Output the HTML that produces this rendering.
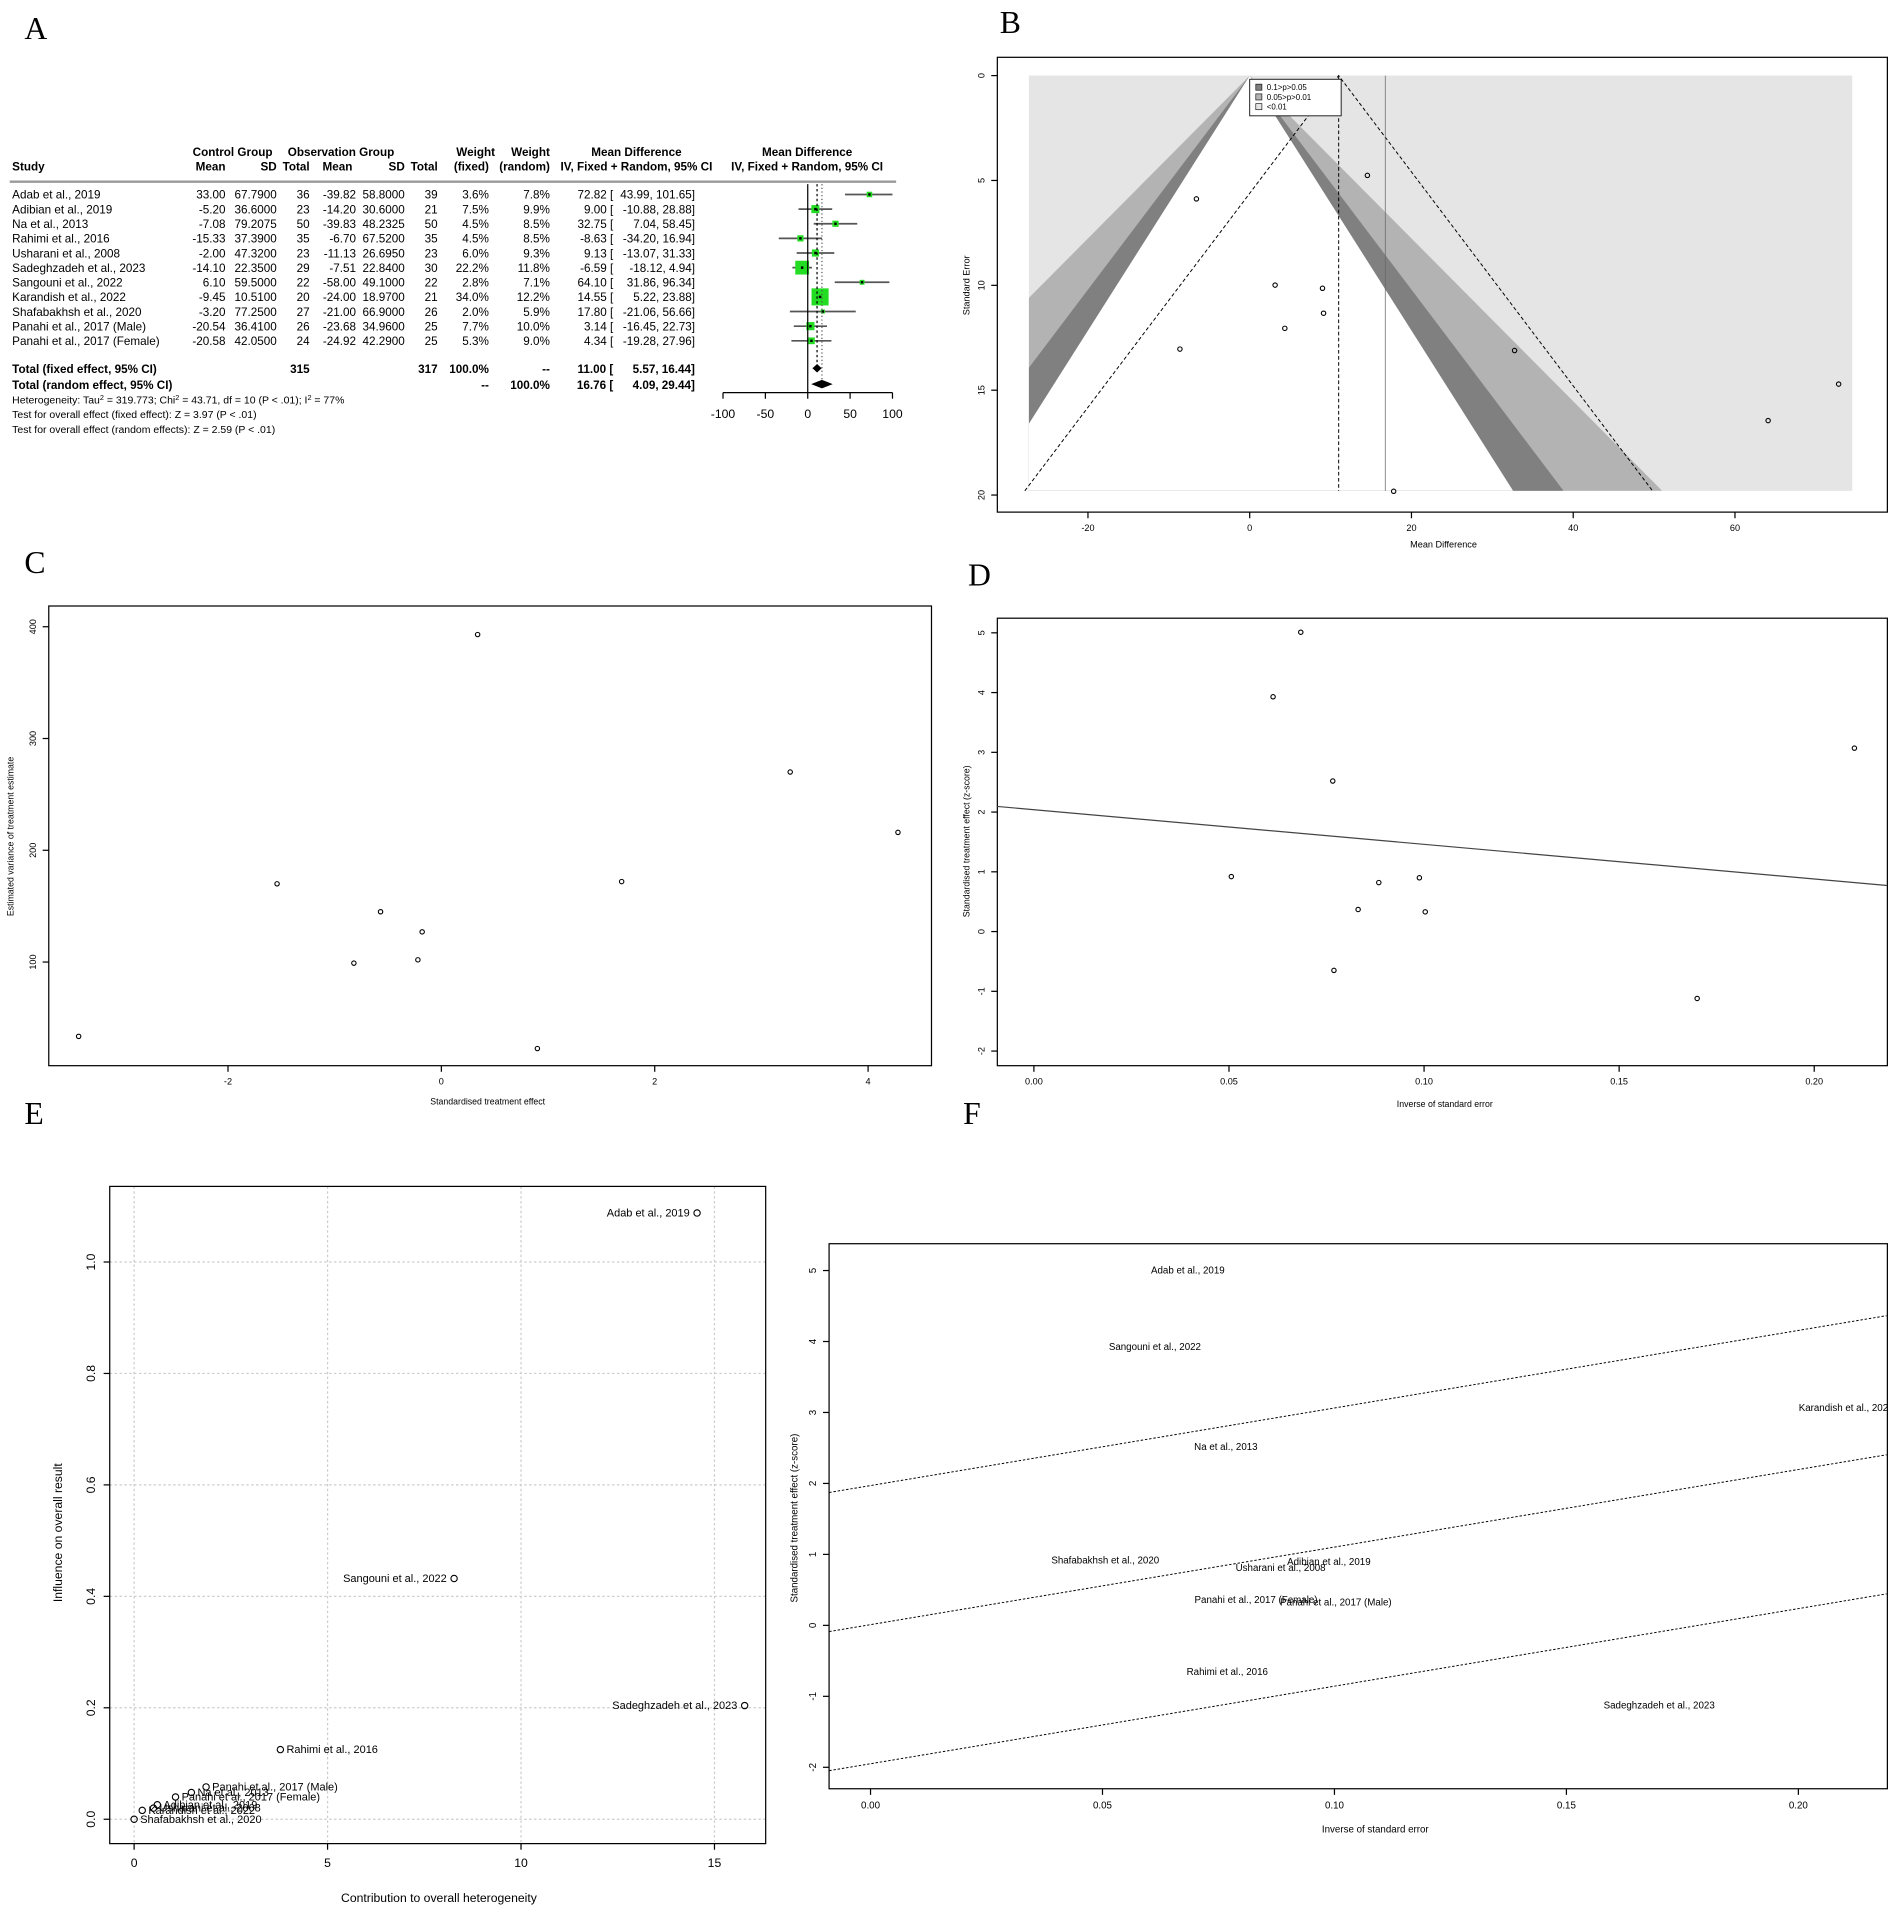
<!DOCTYPE html>
<html><head><meta charset="utf-8"><style>
html,body{margin:0;padding:0;background:#fff;}
svg{display:block;font-family:"Liberation Sans",sans-serif;}
.lbl{font-family:"Liberation Serif",serif;font-size:26px;}
</style></head><body>
<svg id="fig" width="1902" height="1918" viewBox="0 0 1560 1573" preserveAspectRatio="none" xmlns="http://www.w3.org/2000/svg">
<text class="lbl" x="20" y="32">A</text>
<text class="lbl" x="820" y="27">B</text>
<text class="lbl" x="20" y="470">C</text>
<text class="lbl" x="794" y="480">D</text>
<text class="lbl" x="20" y="922">E</text>
<text class="lbl" x="790" y="922">F</text>
<g id="A"></g>
<g id="B"></g>
<g id="C"></g>
<g id="D"></g>
<g id="E"></g>
<g id="F"></g>
</svg>
<script>
// ---------- Data ----------
const studies = ["Adab et al., 2019","Adibian et al., 2019","Na et al., 2013","Rahimi et al., 2016","Usharani et al., 2008","Sadeghzadeh et al., 2023","Sangouni et al., 2022","Karandish et al., 2022","Shafabakhsh et al., 2020","Panahi et al., 2017 (Male)","Panahi et al., 2017 (Female)"];
const ctrlMean = ["33.00","-5.20","-7.08","-15.33","-2.00","-14.10","6.10","-9.45","-3.20","-20.54","-20.58"];
const ctrlSD = ["67.7900","36.6000","79.2075","37.3900","47.3200","22.3500","59.5000","10.5100","77.2500","36.4100","42.0500"];
const ctrlN = [36,23,50,35,23,29,22,20,27,26,24];
const obsMean = ["-39.82","-14.20","-39.83","-6.70","-11.13","-7.51","-58.00","-24.00","-21.00","-23.68","-24.92"];
const obsSD = ["58.8000","30.6000","48.2325","67.5200","26.6950","22.8400","49.1000","18.9700","66.9000","34.9600","42.2900"];
const obsN = [39,21,50,35,23,30,22,21,26,25,25];
const md = [72.82,9.00,32.75,-8.63,9.13,-6.59,64.10,14.55,17.80,3.14,4.34];
const ciLo = [43.99,-10.88,7.04,-34.20,-13.07,-18.12,31.86,5.22,-21.06,-16.45,-19.28];
const ciHi = [101.65,28.88,58.45,16.94,31.33,4.94,96.34,23.88,56.66,22.73,27.96];
const wFixed = [3.6,7.5,4.5,4.5,6.0,22.2,2.8,34.0,2.0,7.7,5.3];
const wRandom = [7.8,9.9,8.5,8.5,9.3,11.8,7.1,12.2,5.9,10.0,9.0];
const fixedEst = [11.00,5.57,16.44];
const randomEst = [16.76,4.09,29.44];
const forestTicks = [-100,-50,0,50,100];
// funnel (B)
const funnelSE = [14.71,10.14,13.11,13.04,11.33,5.88,16.45,4.76,19.82,9.99,12.05];
const funnelTicksX = [-20,0,20,40,60];
const funnelTicksY = [0,5,10,15,20];
// C
const cX = [-3.40,-1.54,-0.57,-0.82,-0.18,-0.22,0.34,0.90,1.69,3.27,4.28];
const cY = [33.5,170,145,99,127,102,393,22.6,172,270,216];
const cTicksX = [-2,0,2,4];
const cTicksY = [100,200,300,400];
// D / F (inverse SE, z-score)
const dfNames = ["Shafabakhsh et al., 2020","Adab et al., 2019","Sangouni et al., 2022","Na et al., 2013","Rahimi et al., 2016","Panahi et al., 2017 (Female)","Usharani et al., 2008","Adibian et al., 2019","Panahi et al., 2017 (Male)","Sadeghzadeh et al., 2023","Karandish et al., 2022"];
const invSE = [0.0506,0.0684,0.0613,0.0766,0.0769,0.0831,0.0884,0.0988,0.1003,0.170,0.2103];
const zScore = [0.92,5.01,3.93,2.52,-0.65,0.37,0.82,0.90,0.33,-1.12,3.07];
const dLine = [2.04,-5.8]; // intercept, slope
const fLine = [0.01,10.93];
const dTicksX = [0,0.05,0.10,0.15,0.20];
const dTicksY = [-2,-1,0,1,2,3,4,5];
// E
const eNames = ["Adab et al., 2019","Sangouni et al., 2022","Sadeghzadeh et al., 2023","Rahimi et al., 2016","Panahi et al., 2017 (Male)","Na et al., 2013","Panahi et al., 2017 (Female)","Adibian et al., 2019","Usharani et al., 2008","Karandish et al., 2022","Shafabakhsh et al., 2020"];
const eX = [14.55,8.27,15.78,3.78,1.86,1.48,1.07,0.60,0.50,0.21,0.0];
const eY = [1.088,0.432,0.204,0.125,0.058,0.048,0.040,0.026,0.020,0.016,0.0];
const eTicksX = [0,5,10,15];
const eTicksY = [0,0.2,0.4,0.6,0.8,1.0];

const NS="http://www.w3.org/2000/svg";
function mk(parent,tag,attrs,text){const e=document.createElementNS(NS,tag);for(const k in attrs)e.setAttribute(k,attrs[k]);if(text!==undefined)e.textContent=text;parent.appendChild(e);return e;}
function lin(d0,d1,r0,r1){return v=>r0+(v-d0)*(r1-r0)/(d1-d0);}

// ---------- A: forest ----------
(function(){
const g=document.getElementById('A');
const fs=9.6;
function T(x,y,s,anchor,bold,name){const t=mk(g,'text',{x:x,y:y,'font-size':fs,'text-anchor':anchor||'start','font-weight':bold?'bold':'normal'},s);

return t;}
T(158,128,'Control Group','start',true,'header-control');T(236,128,'Observation Group','start',true,'header-observation');
T(451,128,'Weight','end',true,'header-weight-fixed');T(406,128,'Weight','end',true,'header-weight-random');
T(522,128,'Mean Difference','middle',true,'header-md');T(662,128,'Mean Difference','middle',true,'header-md-plot');
T(10,140,'Study','start',true,'header-study');T(185,140,'Mean','end',true);T(227,140,'SD','end',true);T(254,140,'Total','end',true);
T(289,140,'Mean','end',true);T(332,140,'SD','end',true);T(359,140,'Total','end',true);T(401,140,'(fixed)','end',true);T(451,140,'(random)','end',true);
T(522,140,'IV, Fixed + Random, 95% CI','middle',true);T(662,140,'IV, Fixed + Random, 95% CI','middle',true);
const hl=mk(g,'line',{x1:8,x2:735,y1:149,y2:149,stroke:'#999','stroke-width':2});

const fx=lin(-100,100,593,732);
const y0=163,dy=12;
for(let i=0;i<studies.length;i++){
 const y=y0+i*dy;
 T(10,y,studies[i],'start',false,'study-name');
 T(185,y,ctrlMean[i],'end');T(227,y,ctrlSD[i],'end');T(254,y,String(ctrlN[i]),'end');
 T(292,y,obsMean[i],'end');T(332,y,obsSD[i],'end');T(359,y,String(obsN[i]),'end');
 T(401,y,wFixed[i].toFixed(1)+'%','end');T(451,y,wRandom[i].toFixed(1)+'%','end');
 T(503,y,md[i].toFixed(2)+' [','end');
 T(570,y,(ciLo[i]<0?'':' ')+ciLo[i].toFixed(2)+', '+ciHi[i].toFixed(2)+']','end');
 const cy=y-3.5;
 const l=mk(g,'line',{x1:fx(Math.max(ciLo[i],-100)),x2:fx(Math.min(ciHi[i],100)),y1:cy,y2:cy,stroke:'#555','stroke-width':1.4});
 
 const s=2.4*Math.sqrt(wFixed[i]);
 const r=mk(g,'rect',{x:fx(md[i])-s/2,y:cy-s/2,width:s,height:s,fill:'#22dd22'});
 
 const p=mk(g,'rect',{x:fx(md[i])-1,y:cy-1,width:2,height:2,fill:'#000'});
 
}
T(10,306,'Total (fixed effect, 95% CI)','start',true,'total-fixed');T(254,306,'315','end',true);T(359,306,'317','end',true);T(401,306,'100.0%','end',true);T(451,306,'--','end',true);
T(503,306,fixedEst[0].toFixed(2)+' [','end',true);T(570,306,' '+fixedEst[1].toFixed(2)+', '+fixedEst[2].toFixed(2)+']','end',true);
T(10,319,'Total (random effect, 95% CI)','start',true,'total-random');T(401,319,'--','end',true);T(451,319,'100.0%','end',true);
T(503,319,randomEst[0].toFixed(2)+' [','end',true);T(570,319,' '+randomEst[1].toFixed(2)+', '+randomEst[2].toFixed(2)+']','end',true);
const ht=mk(g,'text',{x:10,y:331,'font-size':8.6});ht.innerHTML='Heterogeneity: Tau<tspan dy="-3" font-size="6">2</tspan><tspan dy="3"> = 319.773; Chi</tspan><tspan dy="-3" font-size="6">2</tspan><tspan dy="3"> = 43.71, df = 10 (P &lt; .01); I</tspan><tspan dy="-3" font-size="6">2</tspan><tspan dy="3"> = 77%</tspan>';

const t1=mk(g,'text',{x:10,y:343,'font-size':8.6},'Test for overall effect (fixed effect): Z = 3.97 (P < .01)');
const t2=mk(g,'text',{x:10,y:355,'font-size':8.6},'Test for overall effect (random effects): Z = 2.59 (P < .01)');
const z=mk(g,'line',{x1:fx(0),x2:fx(0),y1:151,y2:322,stroke:'#000','stroke-width':1});
const d1=mk(g,'line',{x1:fx(fixedEst[0]),x2:fx(fixedEst[0]),y1:151,y2:306,stroke:'#000','stroke-dasharray':'2,2'});
const d2=mk(g,'line',{x1:fx(randomEst[0]),x2:fx(randomEst[0]),y1:151,y2:319,stroke:'#555','stroke-dasharray':'1,2'});
function dia(est,y,name){const p=mk(g,'polygon',{points:`${fx(est[1])},${y} ${fx(est[0])},${y-3.5} ${fx(est[2])},${y} ${fx(est[0])},${y+3.5}`,fill:'#000'});}
dia(fixedEst,302,'fixed-diamond');dia(randomEst,315,'random-diamond');
const ax=mk(g,'line',{x1:fx(-100),x2:fx(100),y1:322,y2:322,stroke:'#000'});
forestTicks.forEach(v=>{const tk=mk(g,'line',{x1:fx(v),x2:fx(v),y1:322,y2:327,stroke:'#000'});
 const tl=mk(g,'text',{x:fx(v),y:343,'font-size':10,'text-anchor':'middle'},String(v));});
})();

function frame(g,x0,y0,x1,y1){const r=mk(g,'rect',{x:x0,y:y0,width:x1-x0,height:y1-y0,fill:'none',stroke:'#000','stroke-width':1});}
function xTicks(g,ticks,sx,y,fs,fmt){ticks.forEach(v=>{const l=mk(g,'line',{x1:sx(v),x2:sx(v),y1:y,y2:y+5,stroke:'#000'});
 const t=mk(g,'text',{x:sx(v),y:y+5+fs*1.4,'font-size':fs,'text-anchor':'middle'},fmt?fmt(v):String(v));});}
function yTicks(g,ticks,sy,x,fs,fmt){ticks.forEach(v=>{const l=mk(g,'line',{x1:x,x2:x-5,y1:sy(v),y2:sy(v),stroke:'#000'});
 const tx=x-6-fs*0.6;const t=mk(g,'text',{x:tx,y:sy(v),'font-size':fs,'text-anchor':'middle',transform:`rotate(-90 ${tx} ${sy(v)})`},fmt?fmt(v):String(v));});}
function axTitle(g,x,y,s,fs,rot,name){const t=mk(g,'text',{x:x,y:y,'font-size':fs,'text-anchor':'middle',transform:rot?`rotate(-90 ${x} ${y})`:''},s);}
function pt(g,x,y,r){const c=mk(g,'circle',{cx:x,cy:y,r:r||2,fill:'none',stroke:'#000','stroke-width':0.9});}

// ---------- B: funnel ----------
(function(){
const g=document.getElementById('B');
const sx=lin(0,60,1025,1423), sy=lin(0,20,62,406);
const xmin=-27.3,xmax=74.5,seMax=19.8;
const bg=mk(g,'rect',{x:sx(xmin),y:sy(0),width:sx(xmax)-sx(xmin),height:sy(seMax)-sy(0),fill:'#e5e5e5'});
const cl=mk(g,'clipPath',{id:'bclip'});mk(cl,'rect',{x:sx(xmin),y:sy(0),width:sx(xmax)-sx(xmin),height:sy(seMax)-sy(0)});
const levels=[[2.576,'#b3b3b3','p-001-005-region'],[1.96,'#808080','p-005-01-region'],[1.645,'#ffffff','p-gt-01-region']];
levels.forEach(([z,c,n])=>{const p=mk(g,'polygon',{points:`${sx(0)},${sy(0)} ${sx(z*seMax)},${sy(seMax)} ${sx(-z*seMax)},${sy(seMax)}`,fill:c,'clip-path':'url(#bclip)'});});
const c0=fixedEst[0];
const fl=mk(g,'polyline',{points:`${sx(c0-1.96*seMax)},${sy(seMax)} ${sx(c0)},${sy(0)} ${sx(c0+1.96*seMax)},${sy(seMax)}`,fill:'none',stroke:'#000','stroke-dasharray':'3,2','stroke-width':0.8});
const v1=mk(g,'line',{x1:sx(c0),x2:sx(c0),y1:sy(0),y2:sy(seMax),stroke:'#000','stroke-dasharray':'3,2','stroke-width':0.8});
const v2=mk(g,'line',{x1:sx(randomEst[0]),x2:sx(randomEst[0]),y1:sy(0),y2:sy(seMax),stroke:'#666','stroke-width':0.6});
for(let i=0;i<md.length;i++)pt(g,sx(md[i]),sy(funnelSE[i]),1.8);
frame(g,818,47,1548,420);
xTicks(g,funnelTicksX,sx,420,7.5);yTicks(g,funnelTicksY,sy,818,7.5);
axTitle(g,1184,449,'Mean Difference',7.5,false,'x-axis-title');axTitle(g,795,234,'Standard Error',7.5,true,'y-axis-title');
const lg=mk(g,'g',{});
mk(lg,'rect',{x:1025,y:65,width:75,height:30,fill:'#fff',stroke:'#000','stroke-width':0.7});
[['0.1>p>0.05','#808080'],['0.05>p>0.01','#b3b3b3'],['<0.01','#e5e5e5']].forEach(([s,c],k)=>{const e=mk(lg,'rect',{x:1030,y:69+k*8,width:5,height:5,fill:c,stroke:'#000','stroke-width':0.5});
 const t=mk(lg,'text',{x:1039,y:74+k*8,'font-size':6.5},s);});
})();

// ---------- C ----------
(function(){
const g=document.getElementById('C');
const sx=lin(0,2,362,537), sy=lin(100,400,789,514);
frame(g,40,497,764,874);
for(let i=0;i<cX.length;i++)pt(g,sx(cX[i]),sy(cY[i]),1.8);
xTicks(g,cTicksX,sx,874,7.5);yTicks(g,cTicksY,sy,40,7.5);
axTitle(g,400,906,'Standardised treatment effect',7.2,false,'x-axis-title');axTitle(g,11,686,'Estimated variance of treatment estimate',7.2,true,'y-axis-title');
})();

// ---------- D ----------
(function(){
const g=document.getElementById('D');
const sx=lin(0,0.2,848,1488), sy=lin(0,5,764,519);
frame(g,818,507,1548,874);
const xa=-0.0094,xb=0.2187;
const l=mk(g,'line',{x1:sx(xa),y1:sy(dLine[0]+dLine[1]*xa),x2:sx(xb),y2:sy(dLine[0]+dLine[1]*xb),stroke:'#444','stroke-width':1});
for(let i=0;i<invSE.length;i++)pt(g,sx(invSE[i]),sy(zScore[i]),1.8);
xTicks(g,dTicksX,sx,874,7.5,v=>v.toFixed(2));yTicks(g,dTicksY,sy,818,7.5);
axTitle(g,1185,908,'Inverse of standard error',7.2,false,'x-axis-title');axTitle(g,795,690,'Standardised treatment effect (z-score)',7.2,true,'y-axis-title');
})();

// ---------- E ----------
(function(){
const g=document.getElementById('E');
const sx=lin(0,15,110,586), sy=lin(0,1,1492,1035);
const yb=1512;
eTicksX.forEach(v=>{const l=mk(g,'line',{x1:sx(v),x2:sx(v),y1:973,y2:yb,stroke:'#ccc','stroke-dasharray':'2,2'});});
eTicksY.forEach(v=>{const l=mk(g,'line',{x1:90,x2:628,y1:sy(v),y2:sy(v),stroke:'#ccc','stroke-dasharray':'2,2'});});
frame(g,90,973,628,yb);
for(let i=0;i<eX.length;i++){pt(g,sx(eX[i]),sy(eY[i]),2.6);
 const right=eX[i]<10&&i!==1;
 const t=mk(g,'text',{x:right?sx(eX[i])+5:sx(eX[i])-6,y:sy(eY[i])+3,'font-size':9,'text-anchor':right?'start':'end'},eNames[i]);}
xTicks(g,eTicksX,sx,yb,10);yTicks(g,eTicksY,sy,90,10,v=>v.toFixed(1));
axTitle(g,360,1560,'Contribution to overall heterogeneity',10,false,'x-axis-title');axTitle(g,51,1257,'Influence on overall result',10,true,'y-axis-title');
})();

// ---------- F ----------
(function(){
const g=document.getElementById('F');
const sx=lin(0,0.2,714,1475), sy=lin(0,5,1333,1042);
frame(g,680,1020,1548,1467);
const xa=-0.0089,xb=0.219;
[0,1.96,-1.96].forEach((o,k)=>{const l=mk(g,'line',{x1:sx(xa),y1:sy(fLine[0]+o+fLine[1]*xa),x2:sx(xb),y2:sy(fLine[0]+o+fLine[1]*xb),stroke:'#000','stroke-dasharray':'2,1.5','stroke-width':0.8});
 });
const cl=mk(g,'clipPath',{id:'fclip'});mk(cl,'rect',{x:680,y:1020,width:868,height:447});
for(let i=0;i<invSE.length;i++){const t=mk(g,'text',{x:sx(invSE[i]),y:sy(zScore[i])+3,'font-size':8,'text-anchor':'middle','clip-path':'url(#fclip)'},dfNames[i]);}
xTicks(g,dTicksX,sx,1467,8,v=>v.toFixed(2));yTicks(g,dTicksY,sy,680,8);
axTitle(g,1128,1503,'Inverse of standard error',8,false,'x-axis-title');axTitle(g,654,1245,'Standardised treatment effect (z-score)',8,true,'y-axis-title');
})();
</script>
</body></html>
